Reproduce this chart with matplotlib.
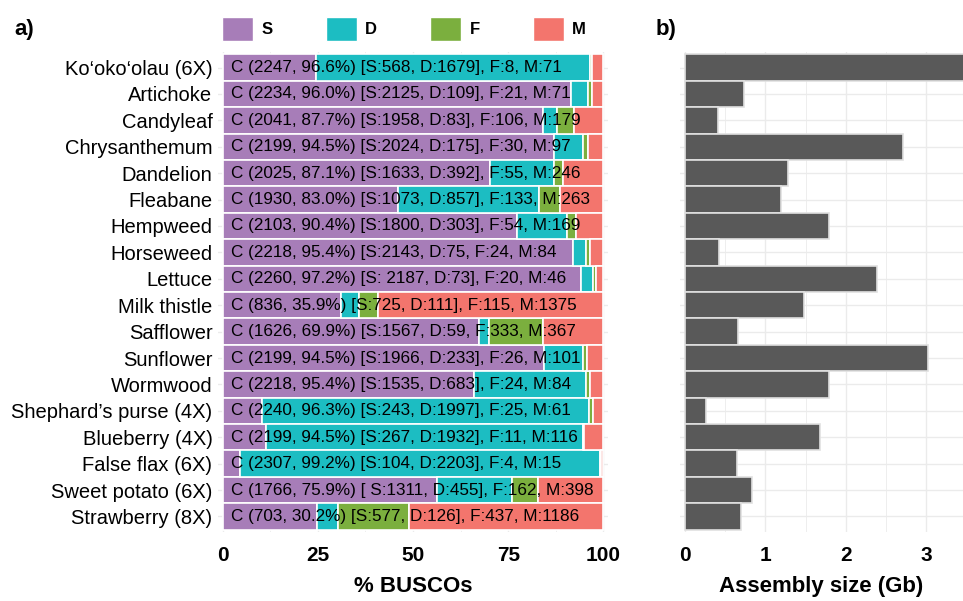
import numpy as np
import matplotlib
matplotlib.use("Agg")
import matplotlib.pyplot as plt
from matplotlib.patches import Patch

plt.rcParams['font.family'] = ['Liberation Sans', 'DejaVu Sans']

# BUSCO counts per species (eudicots, 2326 genes)
species = ["Ko\u2018oko\u2018olau (6X)", "Artichoke", "Candyleaf", "Chrysanthemum",
           "Dandelion", "Fleabane", "Hempweed", "Horseweed", "Lettuce",
           "Milk thistle", "Safflower", "Sunflower", "Wormwood",
           "Shephard\u2019s purse (4X)", "Blueberry (4X)", "False flax (6X)",
           "Sweet potato (6X)", "Strawberry (8X)"]
single = [568, 2125, 1958, 2024, 1633, 1073, 1800, 2143, 2187, 725, 1567,
          1966, 1535, 243, 267, 104, 1311, 577]
dup = [1679, 109, 83, 175, 392, 857, 303, 75, 73, 111, 59, 233, 683, 1997,
       1932, 2203, 455, 126]
frag = [8, 21, 106, 30, 55, 133, 54, 24, 20, 115, 333, 26, 24, 25, 11, 4,
        162, 437]
miss = [71, 71, 179, 97, 246, 263, 169, 84, 46, 1375, 367, 101, 84, 61,
        116, 15, 398, 1186]
bar_text = [
    "C (2247, 96.6%) [S:568, D:1679], F:8, M:71",
    "C (2234, 96.0%) [S:2125, D:109], F:21, M:71",
    "C (2041, 87.7%) [S:1958, D:83], F:106, M:179",
    "C (2199, 94.5%) [S:2024, D:175], F:30, M:97",
    "C (2025, 87.1%) [S:1633, D:392], F:55, M:246",
    "C (1930, 83.0%) [S:1073, D:857], F:133, M:263",
    "C (2103, 90.4%) [S:1800, D:303], F:54, M:169",
    "C (2218, 95.4%) [S:2143, D:75, F:24, M:84",
    "C (2260, 97.2%) [S: 2187, D:73], F:20, M:46",
    "C (836, 35.9%) [S:725, D:111], F:115, M:1375",
    "C (1626, 69.9%) [S:1567, D:59, F:333, M:367",
    "C (2199, 94.5%) [S:1966, D:233], F:26, M:101",
    "C (2218, 95.4%) [S:1535, D:683], F:24, M:84",
    "C (2240, 96.3%) [S:243, D:1997], F:25, M:61",
    "C (2199, 94.5%) [S:267, D:1932], F:11, M:116",
    "C (2307, 99.2%) [S:104, D:2203], F:4, M:15",
    "C (1766, 75.9%) [ S:1311, D:455], F:162, M:398",
    "C (703, 30.2%) [S:577, D:126], F:437, M:1186",
]
# assembly size in Gb (first bar runs off the panel)
size_gb = [3.6, 0.73, 0.41, 2.71, 1.28, 1.20, 1.79, 0.43, 2.39, 1.48, 0.66,
           3.02, 1.79, 0.27, 1.68, 0.65, 0.84, 0.70]

cats = ["S", "D", "F", "M"]
colors = ["#A77DB8", "#1CBDC2", "#7BAF3E", "#F3756D"]

counts = np.array([single, dup, frag, miss], dtype=float)
pct = counts / counts.sum(axis=0) * 100
y = np.arange(len(species))

W, H = 963, 601
fig = plt.figure(figsize=(W / 100, H / 100), dpi=100)
ax1 = fig.add_axes([218 / W, 1 - 532.3 / H, 390 / W, 480.6 / H])
ax2 = fig.add_axes([680 / W, 1 - 532.3 / H, 283 / W, 480.6 / H])

grid_col = "#EBEBEB"

left = np.zeros(len(species))
for k in range(4):
    ax1.barh(y, pct[k], left=left, height=1.0, color=colors[k],
             edgecolor="white", linewidth=1.2, zorder=2)
    left += pct[k]
for i, t in enumerate(bar_text):
    ax1.text(2.2, y[i], t, ha="left", va="center", fontsize=12.3, zorder=3)

ax1.set_xlim(-1.2, 101.2)
ax1.set_ylim(len(species) - 0.4, -0.6)
ax1.set_yticks(y)
ax1.set_yticklabels(species, fontsize=14.5)
ax1.set_xticks([0, 25, 50, 75, 100])
ax1.set_xticks([12.5, 37.5, 62.5, 87.5], minor=True)
ax1.set_xlabel("% BUSCOs", fontsize=16, fontweight="bold", labelpad=8)

ax2.barh(y, size_gb, height=1.0, color="#595959", edgecolor="#E0E0E0",
         linewidth=1.2, zorder=2)
ax2.set_xlim(-0.058, 3.453)
ax2.set_ylim(len(species) - 0.4, -0.6)
ax2.set_yticks(y)
ax2.set_yticklabels([])
ax2.set_xticks([0, 1, 2, 3])
ax2.set_xticks([0.5, 1.5, 2.5], minor=True)
ax2.set_xlabel("Assembly size (Gb)", fontsize=16, fontweight="bold", labelpad=8)

for ax in (ax1, ax2):
    for s in ax.spines.values():
        s.set_visible(False)
    ax.tick_params(axis="both", which="both", length=0)
    ax.tick_params(axis="x", labelsize=15, pad=10)
    ax.tick_params(axis="y", pad=4)
    for lab in ax.get_xticklabels():
        lab.set_fontweight("bold")
    ax.grid(True, which="major", color=grid_col, linewidth=1.0, zorder=0)
    ax.grid(True, which="minor", axis="x", color=grid_col, linewidth=0.6, zorder=0)
    ax.set_axisbelow(True)

handles = [Patch(facecolor=c, edgecolor="white", label=n) for c, n in zip(colors, cats)]
fig.legend(handles=handles, loc="center left", bbox_to_anchor=(214 / W, 1 - 29 / H),
           ncol=4, frameon=False, borderpad=0, handlelength=1.85, handleheight=1.85,
           handletextpad=0.5, columnspacing=3.2,
           prop={"weight": "bold", "size": 12})

fig.text(14 / W, 1 - 29 / H, "a)", fontsize=16, fontweight="bold", va="center", ha="left")
fig.text(656 / W, 1 - 29 / H, "b)", fontsize=16, fontweight="bold", va="center", ha="left")

fig.savefig("out.png", dpi=100)
